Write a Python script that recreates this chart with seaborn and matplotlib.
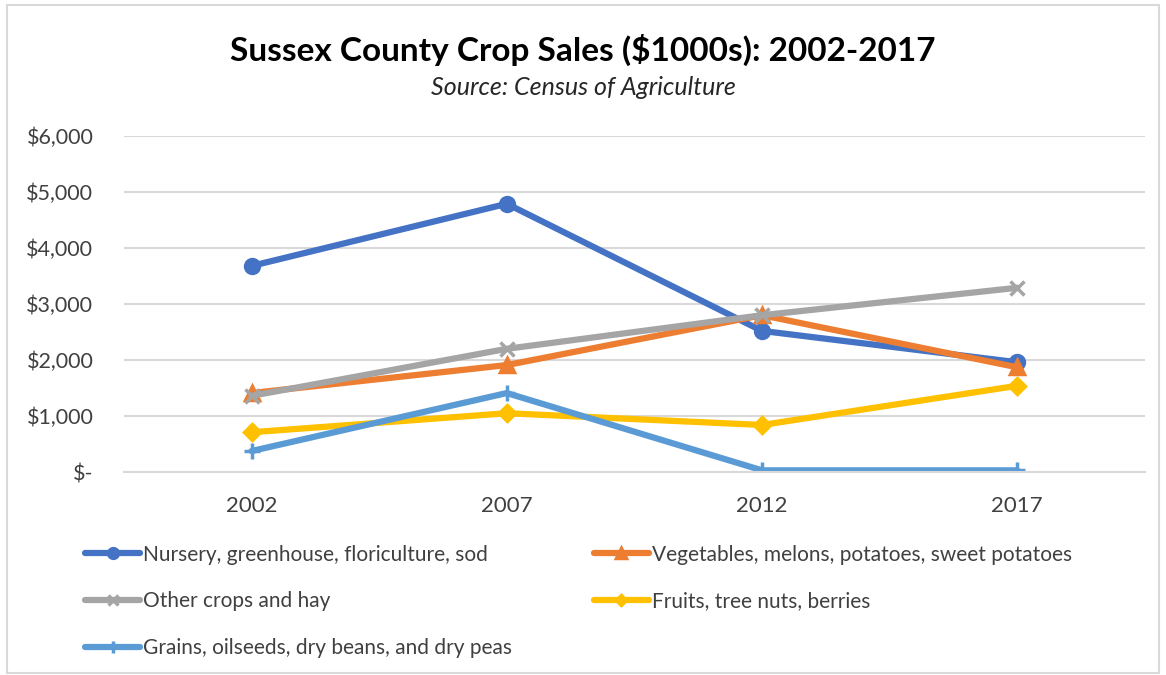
import matplotlib
matplotlib.use("Agg")
import matplotlib.pyplot as plt
import seaborn as sns
import pandas as pd
from matplotlib.patches import Rectangle

years = ["2002", "2007", "2012", "2017"]
nursery = [3680, 4790, 2520, 1960]
vegetables = [1410, 1910, 2800, 1870]
other_crops = [1360, 2200, 2800, 3290]
fruits = [710, 1050, 840, 1540]
grains = [375, 1410, 30, 30]

labels = [
    "Nursery, greenhouse, floriculture, sod",
    "Vegetables, melons, potatoes, sweet potatoes",
    "Other crops and hay",
    "Fruits, tree nuts, berries",
    "Grains, oilseeds, dry beans, and dry peas",
]
series = [nursery, vegetables, other_crops, fruits, grains]
colors = ["#4472C4", "#ED7D31", "#A5A5A5", "#FFC000", "#5B9BD5"]
markers = ["o", "^", "x", "D", "+"]
msizes = [10, 10, 10, 8, 12]

sns.set_style("white")
plt.rcParams["font.family"] = ["Lato", "DejaVu Sans"]

fig = plt.figure(figsize=(11.66, 6.75), dpi=100)
ax = fig.add_axes([0.1063, 0.3007, 0.8756, 0.4978])

xs = list(range(len(years)))
for lab, vals, c, m, ms in zip(labels, series, colors, markers, msizes):
    df = pd.DataFrame({"x": xs, "y": vals})
    sns.lineplot(data=df, x="x", y="y", ax=ax, color=c, linewidth=4.5,
                 marker=m, markersize=ms, markeredgecolor=c, markeredgewidth=2.5,
                 label=lab)

ax.set_xlim(-0.5, 3.5)
ax.set_ylim(0, 6000)
ax.set_xticks(xs)
ax.set_xticklabels(years)
ax.set_yticks(range(0, 6001, 1000))
ax.set_yticklabels(["$-" if v == 0 else "${:,}".format(v) for v in range(0, 6001, 1000)])
ax.yaxis.grid(True, color="#D9D9D9", linewidth=1.5)
ax.set_axisbelow(True)
for s in ["top", "right", "left"]:
    ax.spines[s].set_visible(False)
ax.spines["bottom"].set_color("#D9D9D9")
ax.spines["bottom"].set_linewidth(1.5)
ax.tick_params(axis="both", length=0, labelsize=15.5, colors="#404040")
ax.tick_params(axis="x", labelsize=16, pad=17)
ax.tick_params(axis="y", pad=22)
ax.set_xlabel("")
ax.set_ylabel("")

handles, labs = ax.get_legend_handles_labels()
order = [0, 2, 4, 1, 3]
ax.legend([handles[i] for i in order], [labs[i] for i in order], ncol=2,
          loc="upper left", bbox_to_anchor=(0.073, 0.193),
          bbox_transform=fig.transFigure, frameon=False, borderpad=0,
          borderaxespad=0, fontsize=15, handlelength=2.65, handletextpad=0.15,
          columnspacing=3.9, labelspacing=1.28, markerscale=0.7,
          labelcolor="#404040")

fig.text(0.5, 0.926, "Sussex County Crop Sales ($1000s): 2002-2017", ha="center",
         va="center", fontsize=24, fontweight="bold", color="black")
fig.text(0.5, 0.871, "Source: Census of Agriculture", ha="center", va="center",
         fontsize=18, style="italic", color="#262626")

fig.patches.append(Rectangle((0.006, 0.003), 0.988, 0.99, transform=fig.transFigure,
                             fill=False, edgecolor="#D9D9D9", linewidth=1.5))

fig.savefig("out.png", dpi=100)
